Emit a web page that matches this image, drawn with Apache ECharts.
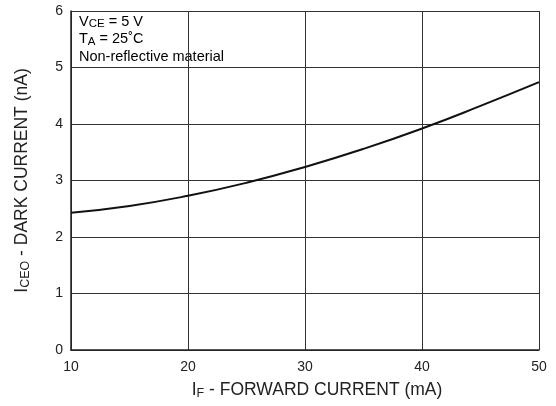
<!DOCTYPE html>
<html>
<head>
<meta charset="utf-8">
<script src="https://cdn.jsdelivr.net/npm/echarts@6/dist/echarts.min.js"></script>
<style>html,body{margin:0;padding:0;background:#fff}#c{width:556px;height:406px}</style>
</head>
<body>
<div id="c"></div>
<script>
const forwardCurrent = [10, 15, 20, 25, 30, 35, 40, 45, 50];
const darkCurrent = [2.43, 2.55, 2.73, 2.96, 3.24, 3.56, 3.92, 4.32, 4.74];
const xTicks = [10, 20, 30, 40, 50];
const yTicks = [0, 1, 2, 3, 4, 5, 6];

const F = 'Liberation Sans, Arial, Helvetica, sans-serif';
const chart = echarts.init(document.getElementById('c'), null, {renderer: 'canvas'});
chart.setOption({
  animation: false,
  grid: {left: 71, right: 17, top: 11, bottom: 56},
  xAxis: {
    type: 'value', min: xTicks[0], max: xTicks[xTicks.length - 1], interval: 10,
    axisLine: {show: true, lineStyle: {color: '#222', width: 1.5}},
    axisTick: {show: false},
    axisLabel: {color: '#222', fontFamily: F, fontSize: 14, margin: 10},
    splitLine: {show: true, lineStyle: {color: '#333', width: 1}},
    name: '{m|I}{s|F}{m| - FORWARD CURRENT (mA)}',
    nameLocation: 'middle', nameGap: 30,
    nameTextStyle: {padding: [0, 0, 0, 24], rich: {
      m: {fontFamily: F, fontSize: 17.5, color: '#222'},
      s: {fontFamily: F, fontSize: 12.5, color: '#222', padding: [7, 0, 0, 0]}
    }}
  },
  yAxis: {
    type: 'value', min: yTicks[0], max: yTicks[yTicks.length - 1], interval: 1,
    axisLine: {show: true, lineStyle: {color: '#222', width: 1.5}},
    axisTick: {show: false},
    axisLabel: {color: '#222', fontFamily: F, fontSize: 14, margin: 8},
    splitLine: {show: true, lineStyle: {color: '#333', width: 1}},
    name: '{m|I}{s|CEO}{m| - DARK CURRENT (nA)}',
    nameLocation: 'middle', nameGap: 39,
    nameTextStyle: {rich: {
      m: {fontFamily: F, fontSize: 17.5, color: '#222'},
      s: {fontFamily: F, fontSize: 12.5, color: '#222', padding: [7, 0, 0, 0]}
    }}
  },
  series: [{
    type: 'line', smooth: true, showSymbol: false,
    data: forwardCurrent.map((x, i) => [x, darkCurrent[i]]),
    lineStyle: {color: '#111', width: 2}
  }],
  graphic: [{
    type: 'text', left: 79, top: 13,
    style: {
      text: '{m|V}{s|CE}{m| = 5 V}\n{m|T}{s|A}{m| = 25˚C}\n{m|Non-reflective material}',
      rich: {
        m: {fontFamily: F, fontSize: 14.5, color: '#222', lineHeight: 17.5},
        s: {fontFamily: F, fontSize: 11.5, color: '#222', padding: [5, 0, 0, 0], lineHeight: 17.5}
      }
    }
  }]
});
</script>
</body>
</html>
